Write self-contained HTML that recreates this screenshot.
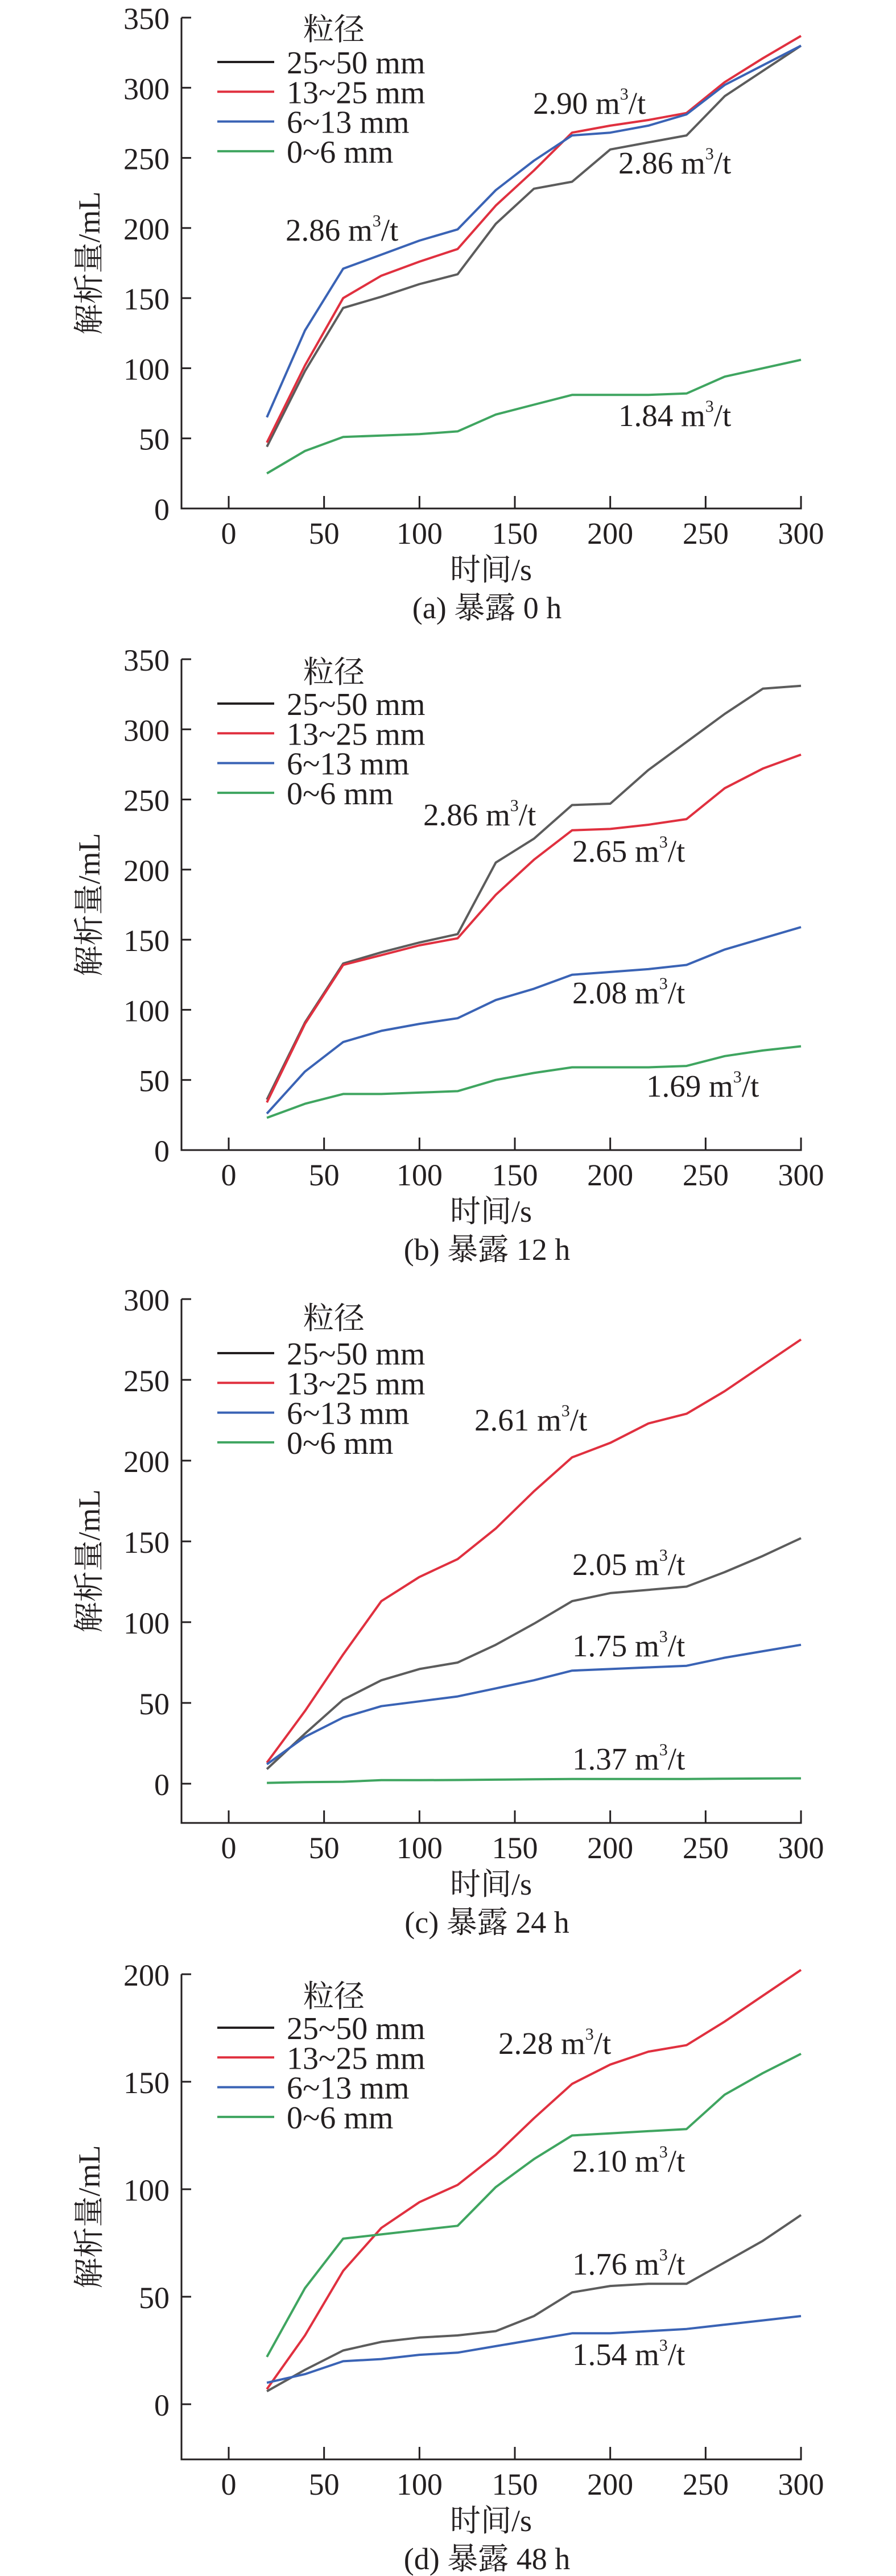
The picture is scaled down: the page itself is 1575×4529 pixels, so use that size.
<!DOCTYPE html>
<html><head><meta charset="utf-8"><style>
html,body{margin:0;padding:0;background:#fff}
svg{display:block}
text{font-family:"Liberation Serif","Noto Serif CJK SC","Noto Sans CJK SC",serif;fill:#231f20}
</style></head><body>
<svg id="fig" width="1575" height="4529" viewBox="0 0 1575 4529" xmlns="http://www.w3.org/2000/svg"></svg>
<script>
// x categories (s)
const times = [20,40,60,80,100,120,140,160,180,200,220,240,260,280,300];
const xTicks = [0,50,100,150,200,250,300];
const seriesNames = ['25~50 mm','13~25 mm','6~13 mm','0~6 mm'];
const seriesColors = ['#5c5c5c','#e0303f','#3a63b5','#3fa560'];

// panel (a) 0 h
const a_black = [44,98,143,151,160,167,203,228,233,256,261,266,294,312,330];
const a_red   = [47,102,150,166,176,185,216,241,268,273,277,282,304,321,337];
const a_blue  = [65,127,171,181,191,199,227,248,266,268,273,281,302,316,330];
const a_green = [25,41,51,52,53,55,67,74,81,81,81,82,94,100,106];
const a_yTicks = [0,50,100,150,200,250,300,350];
const a_notes = ['2.90','2.86','2.86','1.84'];

// panel (b) 12 h
const b_black = [36,91,133,141,148,154,205,222,246,247,271,291,311,329,331];
const b_red   = [34,90,132,139,146,151,182,207,228,229,232,236,258,272,282];
const b_blue  = [26,56,77,85,90,94,107,115,125,127,129,132,143,151,159];
const b_green = [23,33,40,40,41,42,50,55,59,59,59,60,67,71,74];
const b_yTicks = [0,50,100,150,200,250,300,350];
const b_notes = ['2.86','2.65','2.08','1.69'];

// panel (c) 24 h
const c_black = [9,31,52,64,71,75,86,99,113,118,120,122,131,141,152];
const c_red   = [13,45,80,113,128,139,158,181,202,211,223,229,243,259,275];
const c_blue  = [12,29,41,48,51,54,59,64,70,71,72,73,78,82,86];
const c_green = [0.5,1,1.2,2.2,2.2,2.3,2.5,2.7,2.9,2.9,2.9,2.9,3.1,3.2,3.3];
const c_yTicks = [0,50,100,150,200,250,300];
const c_notes = ['2.61','2.05','1.75','1.37'];

// panel (d) 48 h
const d_black = [6,16,25,29,31,32,34,41,52,55,56,56,66,76,88];
const d_red   = [7,32,62,82,94,102,116,133,149,158,164,167,178,190,202];
const d_blue  = [10,14,20,21,23,24,27,30,33,33,34,35,37,39,41];
const d_green = [22,54,77,79,81,83,101,114,125,126,127,128,144,154,163];
const d_yTicks = [0,50,100,150,200];
const d_notes = ['2.28','2.10','1.76','1.54'];

const NS = 'http://www.w3.org/2000/svg';
const svg = document.getElementById('fig');
function mk(tag, attrs, parent){
  const e = document.createElementNS(NS, tag);
  for (const k in attrs) e.setAttribute(k, attrs[k]);
  (parent||svg).appendChild(e);
  return e;
}
const X0 = 402, X300 = 1408, AXL = 319;
function xs(v){ return X0 + (X300 - X0) * v / 300; }

const panels = [
  {id:'a', top:31, zero:894, bottom:894, max:350, data:[a_black,a_red,a_blue,a_green], ticks:a_yTicks, notes:a_notes, cap:'(a) 暴露 0 h', legTitle:21, leg:78,
   notePos:[[937,181],[1087,286],[502,404],[1087,730]]},
  {id:'b', top:1159, zero:2022, bottom:2022, max:350, data:[b_black,b_red,b_blue,b_green], ticks:b_yTicks, notes:b_notes, cap:'(b) 暴露 12 h', legTitle:23, leg:78,
   notePos:[[744,1432],[1006,1496],[1006,1745],[1136,1909]]},
  {id:'c', top:2284, zero:3136, bottom:3205, max:300, data:[c_black,c_red,c_blue,c_green], ticks:c_yTicks, notes:c_notes, cap:'(c) 暴露 24 h', legTitle:34, leg:95,
   notePos:[[834,2496],[1006,2750],[1006,2893],[1006,3092]]},
  {id:'d', top:3471, zero:4227, bottom:4324, max:200, data:[d_black,d_red,d_blue,d_green], ticks:d_yTicks, notes:d_notes, cap:'(d) 暴露 48 h', legTitle:39, leg:94,
   notePos:[[876,3592],[1006,3799],[1006,3980],[1006,4139]]}
];
// note i belongs to series index
const noteSeries = {a:[1,0,2,3], b:[0,1,2,3], c:[1,0,2,3], d:[1,3,0,2]};

panels.forEach(p=>{
  const g = mk('g', {});
  
  
  const ys = v => p.zero - (p.zero - p.top) * v / p.max;
  // axes
  const ya = mk('line', {x1:AXL, y1:p.top, x2:AXL, y2:p.bottom+1.5, stroke:'#231f20','stroke-width':3}, g);
  
  
  const xa = mk('line', {x1:AXL-1.5, y1:p.bottom, x2:X300+1.5, y2:p.bottom, stroke:'#231f20','stroke-width':3}, g);
  
  
  p.ticks.forEach(t=>{
    const y = ys(t);
    mk('line', {x1:AXL, y1:y, x2:AXL+17, y2:y, stroke:'#231f20','stroke-width':3}, g);
    const tl = mk('text', {x:298, y:y+2, 'text-anchor':'end', 'dominant-baseline':'central', 'font-size':54}, g);
    tl.textContent = t;
    
    
  });
  xTicks.forEach(t=>{
    const x = xs(t);
    mk('line', {x1:x, y1:p.bottom, x2:x, y2:p.bottom-22, stroke:'#231f20','stroke-width':3}, g);
    const tl = mk('text', {x:x, y:p.bottom+44, 'text-anchor':'middle', 'dominant-baseline':'central', 'font-size':54}, g);
    tl.textContent = t;
    
    
  });
  // axis titles
  const xt = mk('text', {x:863, y:p.bottom+108, 'text-anchor':'middle', 'dominant-baseline':'central', 'font-size':54}, g);
  xt.textContent = '时间/s';
  
  
  const ymid = (p.top + p.bottom) / 2;
  const yt = mk('text', {x:157, y:ymid, 'text-anchor':'middle', 'dominant-baseline':'central', 'font-size':54, transform:'rotate(-90 157 '+ymid+')'}, g);
  yt.textContent = '解析量/mL';
  
  
  const cp = mk('text', {x:856, y:p.bottom+175, 'text-anchor':'middle', 'dominant-baseline':'central', 'font-size':54}, g);
  cp.textContent = p.cap;
  
  
  // series
  p.data.forEach((arr, si)=>{
    const pts = arr.map((v,i)=> xs(times[i]).toFixed(1) + ',' + ys(v).toFixed(1)).join(' ');
    const pl = mk('polyline', {points:pts, fill:'none', stroke:seriesColors[si], 'stroke-width':4, 'stroke-linejoin':'round'}, g);
    
    
  });
  // legend
  const lt = mk('text', {x:587, y:p.top+p.legTitle, 'text-anchor':'middle', 'dominant-baseline':'central', 'font-size':54}, g);
  lt.textContent = '粒径';
  
  
  seriesNames.forEach((n, si)=>{
    const y = p.top + p.leg + si * 52.3;
    const lg = mk('g', {}, g);
    
    
    mk('line', {x1:382, y1:y, x2:482, y2:y, stroke: si===0 ? '#231f20' : seriesColors[si], 'stroke-width':4}, lg);
    const tx = mk('text', {x:504, y:y+2, 'dominant-baseline':'central', 'font-size':56}, lg);
    tx.textContent = n;
  });
  // annotations
  p.notes.forEach((n, i)=>{
    const [nx, ny] = p.notePos[i];
    const t = mk('text', {x:nx, y:ny, 'dominant-baseline':'central', 'font-size':55}, g);
    
    
    const s1 = mk('tspan', {}, t); s1.textContent = n + ' m';
    const s2 = mk('tspan', {dy:-16, 'font-size':30}, t); s2.textContent = '3';
    const s3 = mk('tspan', {dy:16}, t); s3.textContent = '/t';
  });
});
</script>
</body></html>
